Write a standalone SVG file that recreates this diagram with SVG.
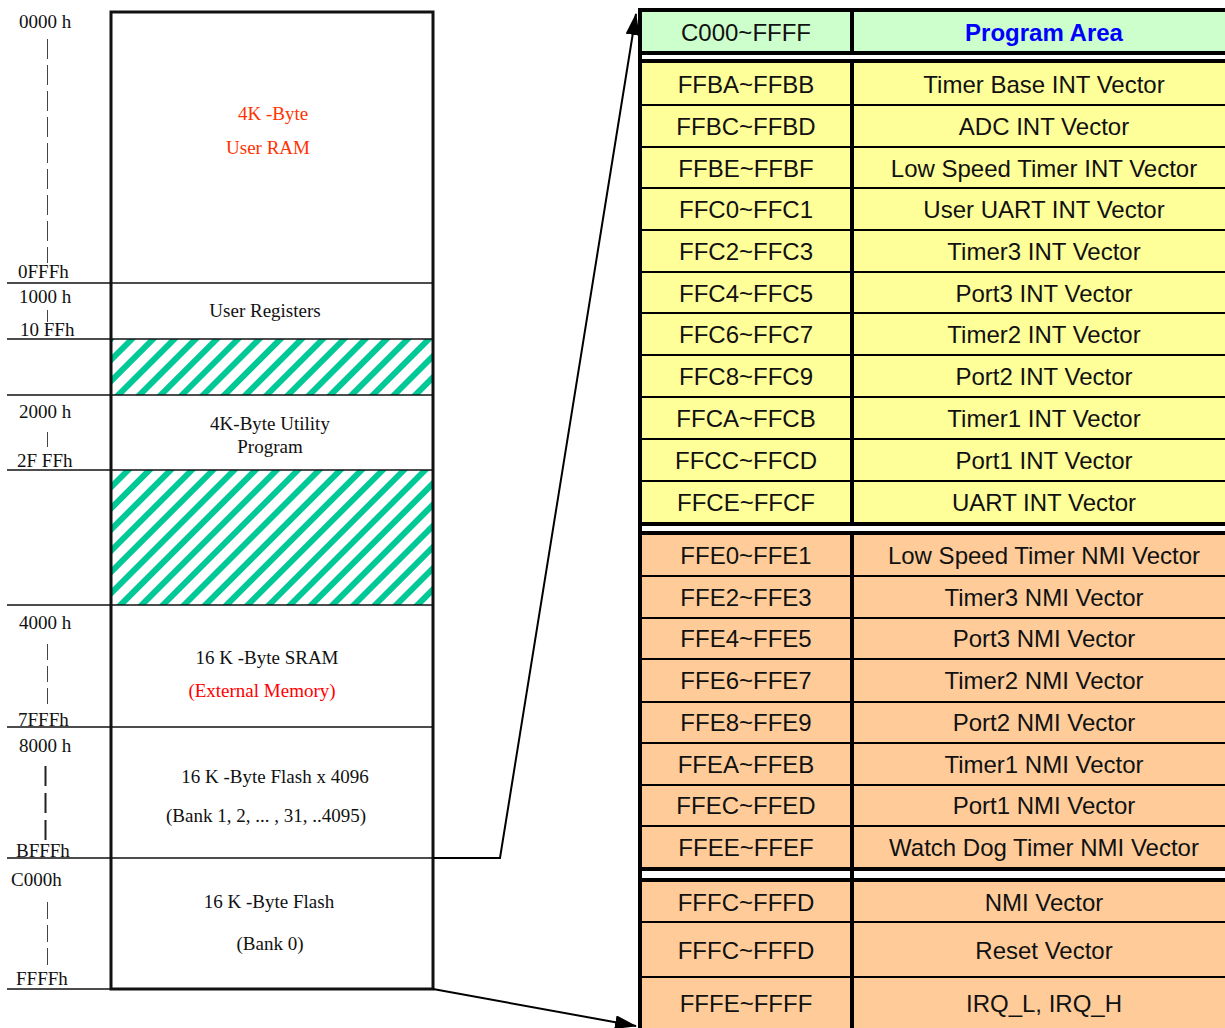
<svg xmlns="http://www.w3.org/2000/svg" width="1225" height="1028" viewBox="0 0 1225 1028">
<style>
.lbl{font-family:"Liberation Serif","Times New Roman",serif;font-size:19px;fill:#111}
.mid{text-anchor:middle}
.t{font-family:"Liberation Sans",Arial,sans-serif;font-size:24px;fill:#111;text-anchor:middle}
.sep{stroke:#111;stroke-width:1.5;fill:none}
.row{stroke:#000;stroke-width:2}
.tick{stroke:#444;stroke-width:1}
.conn{stroke:#000;stroke-width:2;fill:none}
</style>
<defs>
<pattern id="hatch" patternUnits="userSpaceOnUse" width="15" height="15" patternTransform="rotate(45)">
<rect x="0" y="0" width="15" height="15" fill="#fff"/>
<rect x="0" y="0" width="6" height="15" fill="#00C896"/>
</pattern>
<marker id="arr" markerUnits="userSpaceOnUse" markerWidth="22" markerHeight="14" viewBox="0 0 22 14" refX="21" refY="7" orient="auto">
<path d="M0,0 L22,7 L0,14 z" fill="#000"/>
</marker>
</defs>
<rect width="1225" height="1028" fill="#fff"/>

<!-- left memory map -->
<g id="mem-user-ram">
<rect x="111" y="12" width="322" height="271" fill="#fff"/>
<text class="lbl" x="19" y="28">0000 h</text>
<line class="tick" x1="47.5" y1="39" x2="47.5" y2="263" stroke-dasharray="20 6"/>
<text class="lbl" x="18" y="278">0FFFh</text>
<text class="lbl mid" x="273" y="120" style="fill:#FF3300">4K -Byte</text>
<text class="lbl mid" x="268" y="154" style="fill:#FF3300">User RAM</text>
</g>
<g id="mem-user-registers">
<text class="lbl" x="19" y="303">1000 h</text>
<line class="tick" x1="47.5" y1="310" x2="47.5" y2="322"/>
<text class="lbl" x="20" y="336">10 FFh</text>
<text class="lbl mid" x="265" y="317">User Registers</text>
</g>
<g id="mem-reserved-1">
<rect x="112" y="339" width="320" height="56" fill="url(#hatch)"/>
</g>
<g id="mem-utility">
<text class="lbl" x="19" y="418">2000 h</text>
<line class="tick" x1="47.5" y1="432" x2="47.5" y2="447"/>
<text class="lbl" x="17" y="467">2F FFh</text>
<text class="lbl mid" x="270" y="430">4K-Byte Utility</text>
<text class="lbl mid" x="270" y="453">Program</text>
</g>
<g id="mem-reserved-2">
<rect x="112" y="470" width="320" height="135" fill="url(#hatch)"/>
</g>
<g id="mem-sram">
<text class="lbl" x="19" y="629">4000 h</text>
<line class="tick" x1="47.5" y1="644" x2="47.5" y2="708" stroke-dasharray="16 6"/>
<text class="lbl" x="18" y="726">7FFFh</text>
<text class="lbl mid" x="267" y="664">16 K -Byte SRAM</text>
<text class="lbl mid" x="262" y="697" style="fill:#FF0000">(External Memory)</text>
</g>
<g id="mem-flash-banks">
<text class="lbl" x="19" y="752">8000 h</text>
<line x1="45.5" y1="766" x2="45.5" y2="840" stroke="#222" stroke-width="2" stroke-dasharray="20 7"/>
<text class="lbl" x="16" y="857">BFFFh</text>
<text class="lbl mid" x="275" y="783">16 K -Byte Flash x 4096</text>
<text class="lbl mid" x="266" y="822">(Bank 1, 2, ... , 31, ..4095)</text>
</g>
<g id="mem-flash-bank0">
<text class="lbl" x="11" y="886">C000h</text>
<line class="tick" x1="47.5" y1="902" x2="47.5" y2="966" stroke-dasharray="17 6"/>
<text class="lbl" x="16" y="985">FFFFh</text>
<text class="lbl mid" x="269" y="908">16 K -Byte Flash</text>
<text class="lbl mid" x="270" y="950">(Bank 0)</text>
</g>
<g id="mem-frame">
<line class="sep" x1="7" y1="283" x2="433" y2="283"/>
<line class="sep" x1="7" y1="339" x2="433" y2="339"/>
<line class="sep" x1="7" y1="395" x2="433" y2="395"/>
<line class="sep" x1="7" y1="470" x2="433" y2="470"/>
<line class="sep" x1="7" y1="605" x2="433" y2="605"/>
<line class="sep" x1="7" y1="727" x2="433" y2="727"/>
<line class="sep" x1="7" y1="858" x2="433" y2="858"/>
<line class="sep" x1="7" y1="989" x2="433" y2="989"/>
<rect x="111" y="12" width="322" height="977" fill="none" stroke="#111" stroke-width="3"/>
</g>

<!-- vector table -->
<g id="table-header">
<rect x="640" y="10" width="600" height="42" fill="#CCFFCC"/>
<text class="t" x="746" y="41">C000~FFFF</text>
<text class="t" x="1044" y="41" style="fill:#0000FF;font-weight:bold">Program Area</text>
</g>
<g id="table-int" >
<rect x="640" y="61" width="600" height="463" fill="#FFFF99"/>
<g class="row">
<line x1="640" y1="105" x2="1240" y2="105"/><line x1="640" y1="147" x2="1240" y2="147"/>
<line x1="640" y1="188" x2="1240" y2="188"/><line x1="640" y1="230" x2="1240" y2="230"/>
<line x1="640" y1="272" x2="1240" y2="272"/><line x1="640" y1="313" x2="1240" y2="313"/>
<line x1="640" y1="355" x2="1240" y2="355"/><line x1="640" y1="397" x2="1240" y2="397"/>
<line x1="640" y1="439" x2="1240" y2="439"/><line x1="640" y1="481" x2="1240" y2="481"/>
</g>
<g id="row-ffba"><text class="t" x="746" y="93">FFBA~FFBB</text><text class="t" x="1044" y="93">Timer Base INT Vector</text></g>
<g id="row-ffbc"><text class="t" x="746" y="135">FFBC~FFBD</text><text class="t" x="1044" y="135">ADC INT Vector</text></g>
<g id="row-ffbe"><text class="t" x="746" y="177">FFBE~FFBF</text><text class="t" x="1044" y="177">Low Speed Timer INT Vector</text></g>
<g id="row-ffc0"><text class="t" x="746" y="218">FFC0~FFC1</text><text class="t" x="1044" y="218">User UART INT Vector</text></g>
<g id="row-ffc2"><text class="t" x="746" y="260">FFC2~FFC3</text><text class="t" x="1044" y="260">Timer3 INT Vector</text></g>
<g id="row-ffc4"><text class="t" x="746" y="302">FFC4~FFC5</text><text class="t" x="1044" y="302">Port3 INT Vector</text></g>
<g id="row-ffc6"><text class="t" x="746" y="343">FFC6~FFC7</text><text class="t" x="1044" y="343">Timer2 INT Vector</text></g>
<g id="row-ffc8"><text class="t" x="746" y="385">FFC8~FFC9</text><text class="t" x="1044" y="385">Port2 INT Vector</text></g>
<g id="row-ffca"><text class="t" x="746" y="427">FFCA~FFCB</text><text class="t" x="1044" y="427">Timer1 INT Vector</text></g>
<g id="row-ffcc"><text class="t" x="746" y="469">FFCC~FFCD</text><text class="t" x="1044" y="469">Port1 INT Vector</text></g>
<g id="row-ffce"><text class="t" x="746" y="511">FFCE~FFCF</text><text class="t" x="1044" y="511">UART INT Vector</text></g>
</g>
<g id="table-nmi">
<rect x="640" y="532" width="600" height="337" fill="#FFCC99"/>
<g class="row">
<line x1="640" y1="576" x2="1240" y2="576"/><line x1="640" y1="618" x2="1240" y2="618"/>
<line x1="640" y1="659" x2="1240" y2="659"/><line x1="640" y1="702" x2="1240" y2="702"/>
<line x1="640" y1="743" x2="1240" y2="743"/><line x1="640" y1="785" x2="1240" y2="785"/>
<line x1="640" y1="826" x2="1240" y2="826"/>
</g>
<g id="row-ffe0"><text class="t" x="746" y="564">FFE0~FFE1</text><text class="t" x="1044" y="564">Low Speed Timer NMI Vector</text></g>
<g id="row-ffe2"><text class="t" x="746" y="606">FFE2~FFE3</text><text class="t" x="1044" y="606">Timer3 NMI Vector</text></g>
<g id="row-ffe4"><text class="t" x="746" y="647">FFE4~FFE5</text><text class="t" x="1044" y="647">Port3 NMI Vector</text></g>
<g id="row-ffe6"><text class="t" x="746" y="689">FFE6~FFE7</text><text class="t" x="1044" y="689">Timer2 NMI Vector</text></g>
<g id="row-ffe8"><text class="t" x="746" y="731">FFE8~FFE9</text><text class="t" x="1044" y="731">Port2 NMI Vector</text></g>
<g id="row-ffea"><text class="t" x="746" y="773">FFEA~FFEB</text><text class="t" x="1044" y="773">Timer1 NMI Vector</text></g>
<g id="row-ffec"><text class="t" x="746" y="814">FFEC~FFED</text><text class="t" x="1044" y="814">Port1 NMI Vector</text></g>
<g id="row-ffee"><text class="t" x="746" y="856">FFEE~FFEF</text><text class="t" x="1044" y="856">Watch Dog Timer NMI Vector</text></g>
</g>
<g id="table-sys">
<rect x="640" y="880" width="600" height="150" fill="#FFCC99"/>
<g class="row">
<line x1="640" y1="922" x2="1240" y2="922"/><line x1="640" y1="977" x2="1240" y2="977"/>
</g>
<g id="row-fffc-nmi"><text class="t" x="746" y="911">FFFC~FFFD</text><text class="t" x="1044" y="911">NMI Vector</text></g>
<g id="row-fffc-reset"><text class="t" x="746" y="959">FFFC~FFFD</text><text class="t" x="1044" y="959">Reset Vector</text></g>
<g id="row-fffe"><text class="t" x="746" y="1012">FFFE~FFFF</text><text class="t" x="1044" y="1012">IRQ_L, IRQ_H</text></g>
</g>
<g id="table-frame" fill="#000">
<rect x="638" y="8" width="602" height="4"/>
<rect x="638" y="51" width="602" height="4"/>
<rect x="638" y="59" width="602" height="4"/>
<rect x="638" y="522" width="602" height="4"/>
<rect x="638" y="531" width="602" height="4"/>
<rect x="638" y="867" width="602" height="4"/>
<rect x="638" y="878" width="602" height="4"/>
<rect x="638" y="8" width="4" height="1022"/>
<rect x="850" y="8" width="4" height="47"/>
<rect x="850" y="59" width="4" height="467"/>
<rect x="850" y="531" width="4" height="499"/>
</g>

<!-- connectors -->
<g id="connectors">
<polyline class="conn" points="433,858 500,858 636,14" marker-end="url(#arr)"/>
<line class="conn" x1="433" y1="989" x2="636" y2="1026" marker-end="url(#arr)"/>
</g>
</svg>
